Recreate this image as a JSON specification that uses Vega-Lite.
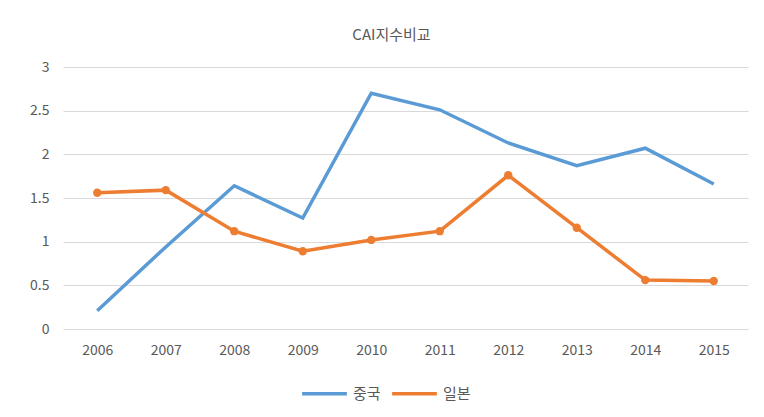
{
  "$schema": "https://vega.github.io/schema/vega-lite/v6.json",
  "autosize": "none",
  "width": 685,
  "height": 262,
  "padding": {"left": 63, "top": 67, "right": 16, "bottom": 88},
  "background": "white",
  "title": {"text": "CAI지수비교", "font": "Noto Sans CJK KR", "fontSize": 15, "fontWeight": "normal", "color": "#595959", "offset": 17, "dx": -14},
  "config": {
    "view": {"stroke": null},
    "font": "Noto Sans CJK KR",
    "axis": {"labelFont": "Noto Sans CJK KR", "labelColor": "#595959", "labelFontSize": 14, "ticks": false, "domain": false, "title": null}
  },
  "data": {"values": [
    {"year": "2006", "country": "중국", "value": 0.21},
    {"year": "2007", "country": "중국", "value": 0.94},
    {"year": "2008", "country": "중국", "value": 1.64},
    {"year": "2009", "country": "중국", "value": 1.27},
    {"year": "2010", "country": "중국", "value": 2.70},
    {"year": "2011", "country": "중국", "value": 2.51},
    {"year": "2012", "country": "중국", "value": 2.13},
    {"year": "2013", "country": "중국", "value": 1.87},
    {"year": "2014", "country": "중국", "value": 2.07},
    {"year": "2015", "country": "중국", "value": 1.66},
    {"year": "2006", "country": "일본", "value": 1.56},
    {"year": "2007", "country": "일본", "value": 1.59},
    {"year": "2008", "country": "일본", "value": 1.12},
    {"year": "2009", "country": "일본", "value": 0.89},
    {"year": "2010", "country": "일본", "value": 1.02},
    {"year": "2011", "country": "일본", "value": 1.12},
    {"year": "2012", "country": "일본", "value": 1.76},
    {"year": "2013", "country": "일본", "value": 1.16},
    {"year": "2014", "country": "일본", "value": 0.56},
    {"year": "2015", "country": "일본", "value": 0.55}
  ]},
  "encoding": {
    "x": {"field": "year", "type": "ordinal", "scale": {"type": "point", "padding": 0.5},
          "axis": {"labelAngle": 0, "grid": false, "labelPadding": 14}},
    "y": {"field": "value", "type": "quantitative", "scale": {"domain": [0, 3], "nice": false},
          "axis": {"values": [0, 0.5, 1, 1.5, 2, 2.5, 3], "format": "~g", "gridColor": "#d9d9d9", "gridWidth": 1, "labelPadding": 14}},
    "color": {"field": "country", "type": "nominal", "sort": ["중국", "일본"],
              "scale": {"domain": ["중국", "일본"], "range": ["#5B9BD5", "#ED7D31"]},
              "legend": {"title": null, "orient": "none", "direction": "horizontal", "legendX": 237, "legendY": 302,
                         "symbolType": "stroke", "symbolStrokeWidth": 3.5, "symbolSize": 2000,
                         "labelFont": "Noto Sans CJK KR", "labelFontSize": 15, "labelColor": "#595959", "columnPadding": 4, "labelOffset": 4}}
  },
  "layer": [
    {"mark": {"type": "line", "strokeWidth": 3.5}},
    {"transform": [{"filter": "datum.country === '일본'"}],
     "mark": {"type": "point", "filled": true, "size": 70, "opacity": 1}}
  ]
}
